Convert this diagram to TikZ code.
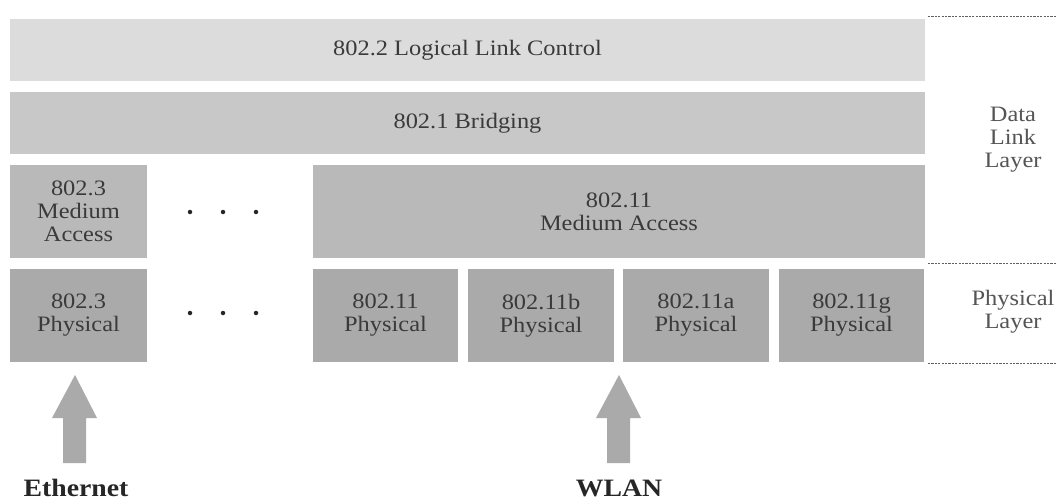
\documentclass[tikz,border=0pt]{standalone}
\usepackage{fontspec}
\setmainfont{Liberation Serif}[FakeStretch=1.11]
\definecolor{cLLC}{HTML}{DCDCDC}
\definecolor{cBr}{HTML}{C8C8C8}
\definecolor{cMA}{HTML}{B9B9B9}
\definecolor{cPhy}{HTML}{AAAAAA}
\definecolor{cTxt}{HTML}{3A3A3A}
\definecolor{cSide}{HTML}{555555}
\definecolor{cDash}{HTML}{606060}
\tikzset{
  layerbox/.style={rectangle, inner sep=0pt, outer sep=0pt, anchor=north west, align=center,
    text=cTxt, font=\fontsize{22}{23}\selectfont},
  sidelabel/.style={inner sep=0pt, align=center, text=cSide, font=\fontsize{22}{23}\selectfont},
  netlabel/.style={inner sep=0pt, anchor=base, text=black!85, font=\bfseries\fontsize{25}{27}\selectfont},
  sep/.style={draw=cDash, line width=1pt, dash pattern=on 2.2pt off 1.2pt},
  bigarrow/.style={fill=cPhy, draw=none},
  dot/.style={circle, fill=black!85, inner sep=0pt, minimum size=4.5pt}
}
\begin{document}
\begin{tikzpicture}[x=1pt,y=-1pt]
\useasboundingbox (0,0) rectangle (1057,501);
% upper layers
\node[layerbox, fill=cLLC, minimum width=915pt, minimum height=62pt] (llc) at (10,19) {802.2 Logical Link Control};
\node[layerbox, fill=cBr, minimum width=915pt, minimum height=62pt] (br) at (10,92) {802.1 Bridging};
% medium access
\node[layerbox, fill=cMA, minimum width=137pt, minimum height=93pt] (ma3) at (10,165) {802.3\\Medium\\Access};
\node[layerbox, fill=cMA, minimum width=612pt, minimum height=93pt] (ma11) at (313,165) {802.11\\Medium Access};
% physical
\node[layerbox, fill=cPhy, minimum width=137pt, minimum height=93pt] (ph3) at (10,269) {802.3\\Physical};
\node[layerbox, fill=cPhy, minimum width=145pt, minimum height=93pt] (ph11) at (313,269) {802.11\\Physical};
\node[layerbox, fill=cPhy, minimum width=146pt, minimum height=93pt] (ph11b) at (468,269) {802.11b\\Physical};
\node[layerbox, fill=cPhy, minimum width=146pt, minimum height=93pt] (ph11a) at (623,269) {802.11a\\Physical};
\node[layerbox, fill=cPhy, minimum width=145pt, minimum height=93pt] (ph11g) at (779,269) {802.11g\\Physical};
% ellipsis dots
\node[dot] (d1) at (190,212) {};
\node[dot] (d2) at (223,212) {};
\node[dot] (d3) at (256,212) {};
\node[dot] (d4) at (190,313) {};
\node[dot] (d5) at (223,313) {};
\node[dot] (d6) at (256,313) {};
% separators
\coordinate (s1a) at (928,16);  \coordinate (s1b) at (1057,16);
\coordinate (s2a) at (928,263); \coordinate (s2b) at (1057,263);
\coordinate (s3a) at (928,363); \coordinate (s3b) at (1057,363);
\draw[sep] (s1a) -- (s1b);
\draw[sep] (s2a) -- (s2b);
\draw[sep] (s3a) -- (s3b);
\node[sidelabel] (dll) at (1013,140) {Data\\Link\\Layer};
\node[sidelabel] (pl) at (1013,312) {Physical\\Layer};
% arrows
\coordinate (ethTip) at (75,375);
\coordinate (wlanTip) at (619,375);
\fill[bigarrow] (ethTip) -- ++(22,43) -- ++(-11,0) -- ++(0,45) -- ++(-23,0) -- ++(0,-45) -- ++(-11,0) -- cycle;
\fill[bigarrow] (wlanTip) -- ++(22,43) -- ++(-11,0) -- ++(0,45) -- ++(-23,0) -- ++(0,-45) -- ++(-11,0) -- cycle;
\node[netlabel] (eth) at (76,496) {Ethernet};
\node[netlabel] (wlan) at (619,496) {WLAN};
\end{tikzpicture}
\end{document}
